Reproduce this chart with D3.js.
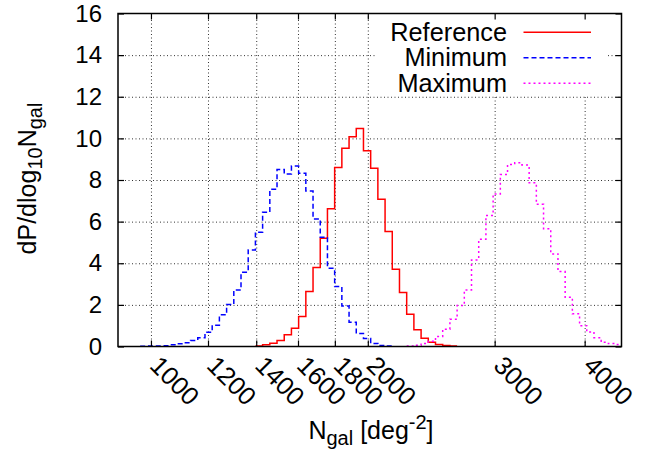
<!DOCTYPE html>
<html>
<head>
<meta charset="utf-8">
<script src="https://cdn.jsdelivr.net/npm/d3@7"></script>
<style>
  body { margin: 0; background: #fff; }
  text { font-family: "Liberation Sans", Arial, Helvetica, sans-serif; fill: #000; }
</style>
</head>
<body>
<svg id="chart" width="648" height="452"></svg>
<script>
// histogram bins are uniform in log10(N), width 0.01 dex; edge of bin k = binStartLog + k * binWidthLog
const binStartLog = 2.985;
const binWidthLog = 0.01;

const seriesNames  = ["Reference", "Minimum", "Maximum"];
const seriesStarts = [16, 0, 37];   // first bin index of each series
const refValues = [0.03, 0.08, 0.16, 0.29, 0.56, 0.88, 1.44, 2.64, 3.80, 5.20, 6.62, 8.60, 9.52, 10.08,
                   10.48, 9.41, 8.56, 7.07, 5.52, 3.71, 2.59, 1.55, 0.80, 0.40, 0.21, 0.10, 0.05, 0.02];
const minValues = [0.01, 0.02, 0.03, 0.04, 0.08, 0.13, 0.18, 0.29, 0.42, 0.68, 1.02, 1.52, 2.02, 2.72,
                   3.57, 4.64, 5.49, 6.45, 7.55, 8.51, 8.29, 8.67, 8.32, 7.47, 6.13, 5.25, 3.76, 2.88,
                   1.95, 1.17, 0.62, 0.38, 0.15, 0.05, 0.02];
const maxValues = [0.02, 0.06, 0.15, 0.25, 0.48, 0.83, 1.31, 1.97, 2.72, 4.16, 5.15, 6.30, 7.33, 8.27,
                   8.75, 8.83, 8.72, 7.87, 6.83, 5.66, 4.45, 3.60, 2.37, 1.57, 1.00, 0.70, 0.42, 0.20,
                   0.14, 0.10];

const xTicks = [1000, 1200, 1400, 1600, 1800, 2000, 3000, 4000];
const yTicks = [0, 2, 4, 6, 8, 10, 12, 14, 16];

const width  = 648;
const height = 452;
const margin = {top: 13.5, right: 26.5, bottom: 105.5, left: 118};
const plotW  = width - margin.left - margin.right;
const plotH  = height - margin.top - margin.bottom;

const x = d3.scaleLog().domain([900, 4500]).range([0, plotW]);
const y = d3.scaleLinear().domain([0, 16]).range([plotH, 0]);

const svg = d3.select("#chart");
const g   = svg.append("g").attr("transform", `translate(${margin.left},${margin.top})`);

svg.append("defs").append("clipPath").attr("id", "plot-clip")
  .append("rect").attr("width", plotW).attr("height", plotH);

// grid
const gridStyle = sel => sel.selectAll("line")
  .attr("stroke", "#333").attr("stroke-width", 1).attr("stroke-dasharray", "1,2.5");

g.append("g")
  .attr("transform", `translate(0,${plotH})`)
  .call(d3.axisBottom(x).tickValues(xTicks).tickSize(-plotH).tickFormat(""))
  .call(a => a.select(".domain").remove())
  .call(gridStyle);

g.append("g")
  .call(d3.axisLeft(y).tickValues(yTicks.slice(1, -1)).tickSize(-plotW).tickFormat(""))
  .call(a => a.select(".domain").remove())
  .call(gridStyle);

// opaque key box
const key = g.append("g").attr("transform", "translate(258,0)");
key.append("rect")
  .attr("width", 231).attr("height", 82.5)
  .attr("fill", "#fff");

// histogram steps
const colors = ["#ff0000", "#0000ff", "#ff00ff"];
const dashes = [null, "5,3", "2,3"];
const values = [refValues, minValues, maxValues];

function stepPoints(vals, start) {
  const pts = [];
  vals.forEach((v, i) => {
    const k = start + i;
    pts.push([Math.pow(10, binStartLog + k * binWidthLog), v]);
    pts.push([Math.pow(10, binStartLog + (k + 1) * binWidthLog), v]);
  });
  return pts;
}

const line = d3.line().x(d => x(d[0])).y(d => y(d[1]));

g.append("g").attr("clip-path", "url(#plot-clip)")
  .selectAll("path")
  .data(values.map((v, i) => ({pts: stepPoints(v, seriesStarts[i]), i})))
  .enter()
  .append("path")
  .attr("d", d => line(d.pts))
  .attr("fill", "none")
  .attr("stroke", d => colors[d.i])
  .attr("stroke-width", 1.5)
  .attr("stroke-dasharray", d => dashes[d.i]);

// axes with inward ticks
const tickLen = 6;
const xAxis = g.append("g")
  .attr("transform", `translate(0,${plotH})`)
  .call(d3.axisBottom(x).tickValues(xTicks).tickSize(-tickLen).tickFormat(d3.format("d")));

const yAxis = g.append("g")
  .call(d3.axisLeft(y).tickValues(yTicks).tickSize(-tickLen).tickPadding(16));

g.append("g")
  .call(d3.axisTop(x).tickValues(xTicks).tickSize(-tickLen).tickFormat(""));
g.append("g")
  .attr("transform", `translate(${plotW},0)`)
  .call(d3.axisRight(y).tickValues(yTicks).tickSize(-tickLen).tickFormat(""));

g.selectAll(".domain").remove();
g.selectAll(".tick line").filter(function () { return !this.getAttribute("stroke-dasharray"); })
  .attr("stroke", "#000").attr("stroke-width", 1.2);
g.selectAll(".tick text").attr("font-size", 24).attr("fill", "#000")
  .attr("font-family", "'Liberation Sans', Arial, Helvetica, sans-serif");

xAxis.selectAll("text")
  .attr("x", 0).attr("y", 0).attr("dy", 0)
  .attr("font-size", 25.5)
  .attr("text-anchor", "start")
  .attr("transform", "translate(-3,20.5) rotate(45)");

// frame
g.append("rect")
  .attr("width", plotW).attr("height", plotH)
  .attr("fill", "none").attr("stroke", "#000").attr("stroke-width", 1.5);

// key entries
const keyRows = key.selectAll("g.row").data(seriesNames).enter()
  .append("g").attr("class", "row")
  .attr("transform", (d, i) => `translate(0,${27.2 + i * 25.5})`);
keyRows.append("text")
  .attr("x", 131).attr("text-anchor", "end")
  .attr("font-size", 25.3)
  .text(d => d);
keyRows.append("line")
  .attr("x1", 147.5).attr("x2", 215).attr("y1", -8.5).attr("y2", -8.5)
  .attr("stroke", (d, i) => colors[i])
  .attr("stroke-width", 1.5)
  .attr("stroke-dasharray", (d, i) => dashes[i]);

// axis titles
const xTitle = svg.append("text")
  .attr("x", margin.left + 253).attr("y", 438.5)
  .attr("text-anchor", "middle").attr("font-size", 25);
xTitle.append("tspan").text("N");
xTitle.append("tspan").attr("font-size", 20).attr("dy", 6).text("gal");
xTitle.append("tspan").attr("dy", -6).text(" [deg");
xTitle.append("tspan").attr("font-size", 20).attr("dy", -10).text("-2");
xTitle.append("tspan").attr("dy", 10).text("]");

const yTitle = svg.append("text")
  .attr("transform", "translate(36,178.5) rotate(-90)")
  .attr("text-anchor", "middle").attr("font-size", 25);
yTitle.append("tspan").text("dP/dlog");
yTitle.append("tspan").attr("font-size", 20).attr("dy", 6).text("10");
yTitle.append("tspan").attr("dy", -6).text("N");
yTitle.append("tspan").attr("font-size", 20).attr("dy", 6).text("gal");
</script>
</body>
</html>
